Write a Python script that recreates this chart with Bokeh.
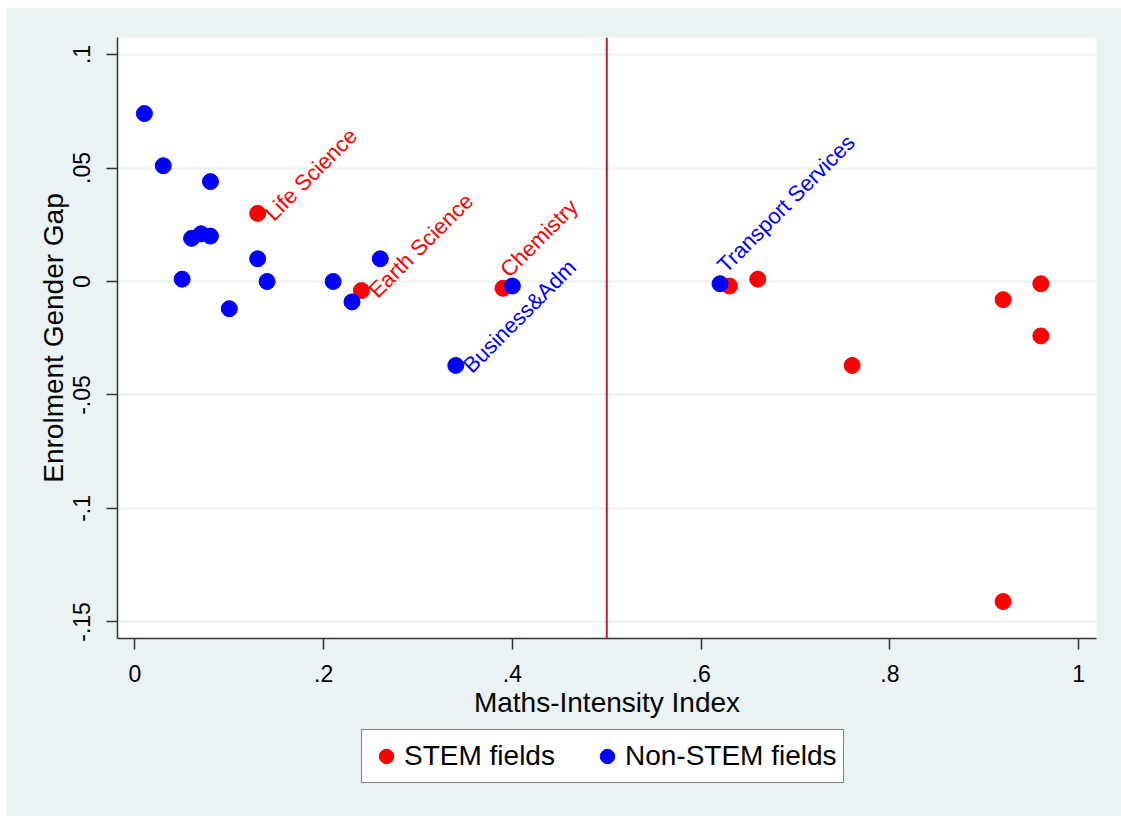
import numpy as np
from bokeh.plotting import figure
from bokeh.layouts import column
from bokeh.models import ColumnDataSource, Span, Legend, LegendItem, FixedTicker
from bokeh.core.properties import value
from bokeh.embed import file_html
from bokeh.resources import INLINE

# ---- data ----
stem_x = [0.13, 0.24, 0.39, 0.63, 0.66, 0.76, 0.92, 0.96, 0.96, 0.92]
stem_y = [0.030, -0.004, -0.003, -0.002, 0.001, -0.037, -0.008, -0.001, -0.024, -0.141]
stem_labels = ["Life Science", "Earth Science", "Chemistry", "", "", "", "", "", "", ""]
stem_label_clock = [3, 3, 12, 3, 3, 3, 3, 3, 3, 3]

non_x = [0.01, 0.03, 0.08, 0.06, 0.07, 0.08, 0.05, 0.13, 0.14, 0.10, 0.21, 0.23, 0.26, 0.40, 0.34, 0.62]
non_y = [0.074, 0.051, 0.044, 0.019, 0.021, 0.020, 0.001, 0.010, 0.000, -0.012, 0.000, -0.009, 0.010, -0.002, -0.037, -0.001]
non_labels = ["", "", "", "", "", "", "", "", "", "", "", "", "", "", "Business&Adm", "Transport Services"]
non_label_clock = [3, 3, 3, 3, 3, 3, 3, 3, 3, 3, 3, 3, 3, 3, 3, 12]

threshold = 0.5

x_ticks = [0, 0.2, 0.4, 0.6, 0.8, 1]
x_tick_labels = ["0", ".2", ".4", ".6", ".8", "1"]
y_ticks = [-0.15, -0.1, -0.05, 0, 0.05, 0.1]
y_tick_labels = ["-.15", "-.1", "-.05", "0", ".05", ".1"]

series_names = ["STEM fields", "Non-STEM fields"]
x_title = "Maths-Intensity Index"
y_title = "Enrolment Gender Gap"

# ---- styling ----
FONT = "Liberation Sans"
BG = "#EAF2F3"
RED = "#FF0000"
BLUE = "#0000FF"
CLOCK_OFFSETS = {3: (11, 3.5), 12: (1, -15)}

p = figure(frame_width=979, frame_height=601, output_backend="svg", toolbar_location=None,
           x_range=(-0.0185, 1.019), y_range=(-0.1573, 0.1075),
           min_border_left=111, min_border_right=25, min_border_top=29, min_border_bottom=90)
p.background_fill_color = "white"
p.border_fill_color = BG
p.outline_line_color = None

p.xgrid.grid_line_color = None
p.ygrid.grid_line_color = BG
p.ygrid.grid_line_width = 2

for ax in (p.xaxis[0], p.yaxis[0]):
    ax.axis_line_color = "#333333"
    ax.axis_line_width = 1.5
    ax.major_tick_line_color = "#333333"
    ax.major_tick_line_width = 1.5
    ax.major_tick_in = 0
    ax.major_tick_out = 11
    ax.minor_tick_line_color = None
    ax.major_label_text_font = FONT
    ax.major_label_text_font_size = "23px"
    ax.major_label_text_color = "black"
    ax.axis_label_text_font = FONT
    ax.axis_label_text_font_size = "28px"
    ax.axis_label_text_font_style = "normal"
    ax.axis_label_text_color = "black"

p.xaxis.ticker = FixedTicker(ticks=x_ticks)
p.yaxis.ticker = FixedTicker(ticks=y_ticks)
p.xaxis.major_label_overrides = {t: l for t, l in zip(x_ticks, x_tick_labels)}
p.yaxis.major_label_overrides = {t: l for t, l in zip(y_ticks, y_tick_labels)}
p.yaxis.major_label_orientation = "vertical"
p.xaxis.axis_label = x_title
p.yaxis.axis_label = y_title
p.xaxis.major_label_standoff = 15
p.xaxis.axis_label_standoff = 2
p.yaxis.major_label_standoff = 16
p.yaxis.axis_label_standoff = 2

p.add_layout(Span(location=threshold, dimension="height", line_color="#C4173F", line_width=2))

def label_source(xs, ys, labels, clocks):
    keep = [i for i, l in enumerate(labels) if l]
    return ColumnDataSource(dict(
        x=[xs[i] for i in keep], y=[ys[i] for i in keep],
        text=[labels[i] for i in keep],
        dx=[CLOCK_OFFSETS[clocks[i]][0] for i in keep],
        dy=[CLOCK_OFFSETS[clocks[i]][1] for i in keep]))

r_stem = p.scatter(stem_x, stem_y, size=16, color=RED, line_color=RED)
r_non = p.scatter(non_x, non_y, size=16, color=BLUE, line_color=BLUE)

for xs, ys, labels, clocks, col in ((stem_x, stem_y, stem_labels, stem_label_clock, RED),
                                    (non_x, non_y, non_labels, non_label_clock, BLUE)):
    src = label_source(xs, ys, labels, clocks)
    p.text(x="x", y="y", text="text", source=src, x_offset="dx", y_offset="dy",
           angle=np.pi / 4, text_align="left", text_baseline="alphabetic",
           text_font=value(FONT), text_font_size="22px", text_color=col)

# ---- legend strip (separate canvas under the plot, same background) ----
lg = figure(width=1115, height=88, output_backend="svg", toolbar_location=None,
            x_range=(0, 1), y_range=(0, 1),
            min_border_left=111, min_border_right=25, min_border_top=0, min_border_bottom=0)
lg.axis.visible = False
lg.grid.visible = False
lg.outline_line_color = None
lg.background_fill_color = BG
lg.border_fill_color = BG
# key glyphs only: one point each, placed outside the visible range
k_stem = lg.scatter([-5], [-5], size=16, color=RED, line_color=RED)
k_non = lg.scatter([-5], [-5], size=16, color=BLUE, line_color=BLUE)

legend = Legend(items=[LegendItem(label=series_names[0], renderers=[k_stem]),
                       LegendItem(label=series_names[1], renderers=[k_non])],
                orientation="horizontal", location=(244, 33))
legend.label_text_font = FONT
legend.label_text_font_size = "28px"
legend.label_text_color = "black"
legend.border_line_color = "black"
legend.border_line_width = 1.5
legend.background_fill_color = "white"
legend.background_fill_alpha = 1
legend.padding = 6
legend.spacing = 34
legend.glyph_width = 36
legend.glyph_height = 40
legend.label_standoff = 0
legend.margin = 0
lg.add_layout(legend, "center")

layout = column(p, lg, spacing=0)
layout.styles = {"margin-left": "6px", "margin-top": "8px", "background-color": BG}

open("out.html", "w").write(file_html(layout, INLINE))
